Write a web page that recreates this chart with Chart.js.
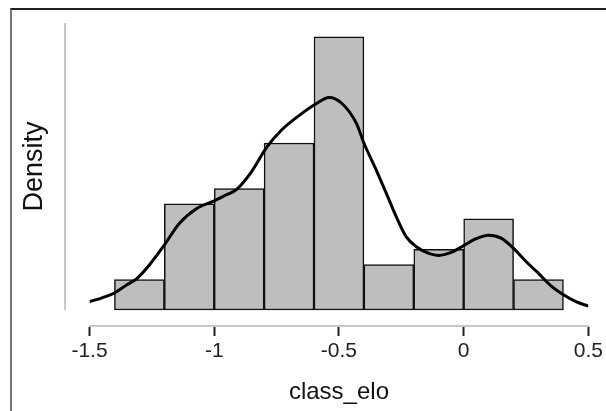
<!DOCTYPE html>
<html>
<head>
<meta charset="utf-8">
<script src="https://cdn.jsdelivr.net/npm/chart.js@4.4.1/dist/chart.umd.min.js"></script>
<style>
    html, body { margin: 0; padding: 0; background: #fff; overflow: hidden; }
    #wrap { position: relative; width: 606px; height: 411px; overflow: hidden; }
    #frame {
        position: absolute; left: 10px; top: 8px; width: 700px; height: 500px;
        border-top: 2px solid #222; border-left: 2px solid #777;
    }
    canvas { position: absolute; left: 0; top: 0; }
</style>
</head>
<body>
<div id="wrap">
    <div id="frame"></div>
    <canvas id="chart" width="606" height="411"></canvas>
</div>
<script>
// histogram bins (centres), bin density
const binCentres = [-1.3, -1.1, -0.9, -0.7, -0.5, -0.3, -0.1, 0.1, 0.3];
const binDensity = [0.164, 0.574, 0.656, 0.902, 1.475, 0.246, 0.328, 0.492, 0.164];

// kernel density curve
const curveX = [-1.50, -1.45, -1.40, -1.35, -1.31, -1.26, -1.20, -1.14, -1.07, -1.00,
                -0.95, -0.91, -0.85, -0.79, -0.73, -0.66, -0.59, -0.54, -0.49, -0.43,
                -0.40, -0.35, -0.31, -0.27, -0.23, -0.19, -0.14, -0.10, -0.05, -0.01,
                 0.05,  0.10,  0.15,  0.20,  0.25,  0.30,  0.35,  0.40,  0.45,  0.50];
const curveY = [0.045, 0.066, 0.092, 0.137, 0.170, 0.243, 0.351, 0.467, 0.548, 0.590,
                0.623, 0.652, 0.748, 0.878, 0.972, 1.050, 1.115, 1.148, 1.118, 1.008,
                0.902, 0.754, 0.630, 0.503, 0.395, 0.342, 0.306, 0.295, 0.311, 0.340,
                0.385, 0.404, 0.388, 0.333, 0.262, 0.198, 0.131, 0.082, 0.045, 0.021];

const xTickValues = [-1.5, -1, -0.5, 0, 0.5];
const xTickLabels = ['-1.5', '-1', '-0.5', '0', '0.5'];

const fontFamily = '"Liberation Sans", Arial, Helvetica, sans-serif';

// y axis line (stops at the baseline) and its title
const yAxisDecor = {
    id: 'yAxisDecor',
    afterDraw(chart) {
        const ctx = chart.ctx;
        const y = chart.scales.y;
        const top = chart.chartArea.top;
        const base = y.getPixelForValue(0);
        ctx.save();
        ctx.strokeStyle = '#c8c8c8';
        ctx.lineWidth = 2;
        ctx.beginPath();
        ctx.moveTo(65, top);
        ctx.lineTo(65, base);
        ctx.stroke();

        ctx.translate(35, (top + base) / 2);
        ctx.rotate(-Math.PI / 2);
        ctx.fillStyle = '#111';
        ctx.font = '27px ' + fontFamily;
        ctx.textAlign = 'center';
        ctx.textBaseline = 'middle';
        ctx.fillText('Density', 0, 0);
        ctx.restore();
    }
};

new Chart(document.getElementById('chart'), {
    type: 'bar',
    data: {
        datasets: [
            {
                type: 'line',
                data: curveX.map((x, i) => ({ x: x, y: curveY[i] })),
                borderColor: '#000',
                borderWidth: 3,
                pointRadius: 0,
                cubicInterpolationMode: 'monotone',
                fill: false,
                order: 0
            },
            {
                type: 'bar',
                data: binCentres.map((x, i) => ({ x: x, y: binDensity[i] })),
                backgroundColor: '#bebebe',
                borderColor: '#111',
                borderWidth: 1.5,
                borderSkipped: false,
                barPercentage: 1,
                categoryPercentage: 1,
                order: 1
            }
        ]
    },
    options: {
        responsive: false,
        animation: false,
        layout: {
            padding: { top: 23, right: 15.5, left: 0, bottom: 0 }
        },
        plugins: {
            legend: { display: false },
            tooltip: { enabled: false }
        },
        scales: {
            x: {
                type: 'linear',
                offset: false,
                min: -1.5,
                max: 0.5,
                afterFit: function(scale) { scale.height = 85; },
                afterBuildTicks: function(scale) {
                    scale.ticks = xTickValues.map(v => ({ value: v }));
                },
                ticks: {
                    padding: 3,
                    color: '#222',
                    font: { family: fontFamily, size: 21 },
                    callback: function(value, index) { return xTickLabels[index]; }
                },
                grid: {
                    offset: false,
                    drawOnChartArea: false,
                    tickLength: 10,
                    tickColor: '#222',
                    tickWidth: 2
                },
                border: { color: '#c8c8c8', width: 2 },
                title: {
                    display: true,
                    text: 'class_elo',
                    color: '#111',
                    font: { family: fontFamily, size: 24 },
                    padding: { top: 0, bottom: 4 }
                }
            },
            y: {
                min: -0.0863,
                max: 1.55,
                afterFit: function(scale) { scale.width = 89.5; },
                ticks: { display: false },
                grid: { display: false },
                border: { display: false },
                title: { display: false }
            }
        }
    },
    plugins: [yAxisDecor]
});
</script>
</body>
</html>
